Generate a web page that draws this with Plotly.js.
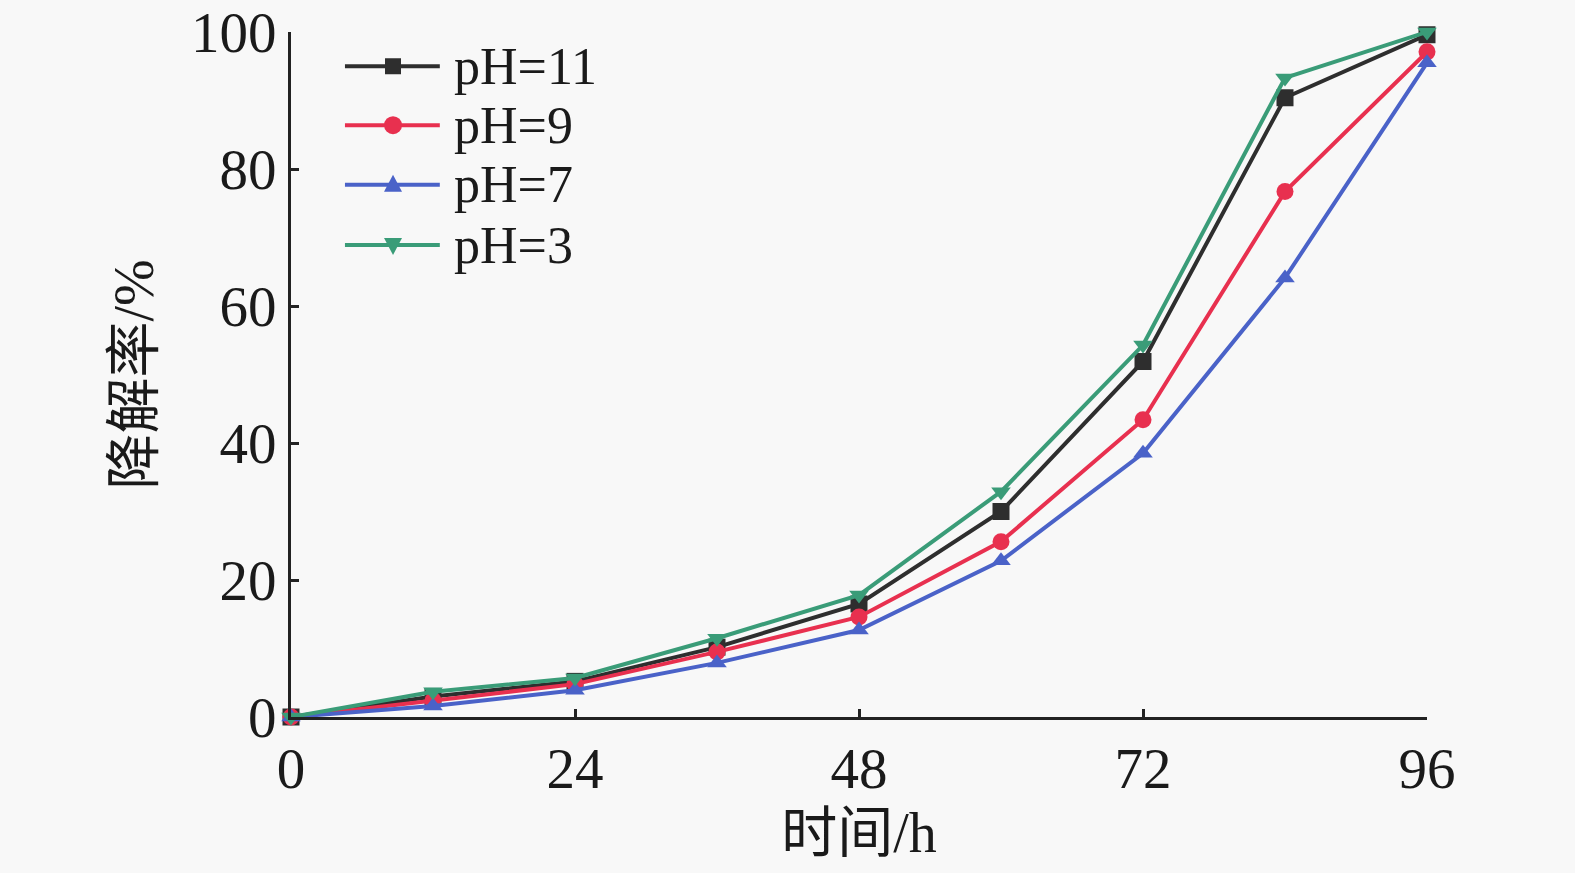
<!DOCTYPE html>
<html>
<head>
<meta charset="utf-8">
<script src="https://cdn.plot.ly/plotly-3.0.1.min.js"></script>
<style>
  html, body { margin: 0; padding: 0; background: #f8f8f8; }
  #chart { width: 1575px; height: 873px; }
</style>
</head>
<body>
<div id="chart"></div>
<script>
// degradation rate vs time at four pH levels
const hours = [0, 12, 24, 36, 48, 60, 72, 84, 96];
const ph11 = [0, 3.0, 5.2, 10.2, 16.5, 30.0, 51.9, 90.4, 99.6];
const ph9 = [0, 2.4, 4.8, 9.5, 14.6, 25.6, 43.4, 76.7, 97.1];
const ph7 = [0, 1.6, 3.9, 7.9, 12.7, 22.8, 38.5, 64.1, 95.5];
const ph3 = [0, 3.7, 5.7, 11.5, 17.8, 32.9, 54.3, 93.3, 100];
const seriesNames = ["pH=11", "pH=9", "pH=7", "pH=3"];
const xTicks = [0, 24, 48, 72, 96];
const yTicks = [0, 20, 40, 60, 80, 100];

const SERIF = "Liberation Serif, Times New Roman, Noto Sans CJK SC, serif";
const AXIS = "#222222";

const styles = [
  { color: "#2e2e2e", symbol: "square" },
  { color: "#e8304f", symbol: "circle" },
  { color: "#4a62c8", symbol: "triangle-up" },
  { color: "#3a9c78", symbol: "triangle-down" },
];
const values = [ph11, ph9, ph7, ph3];

const traces = values.map((y, i) => ({
  type: "scatter",
  mode: "lines+markers",
  name: seriesNames[i],
  x: hours,
  y,
  cliponaxis: false,
  line: { color: styles[i].color, width: 4 },
  marker: { color: styles[i].color, symbol: styles[i].symbol, size: 17 },
}));

// hand-drawn legend: long line keys like the original, built from shapes
const LEG_X0 = 0.0475, LEG_X1 = 0.131, LEG_MX = 0.0898, LEG_TX = 0.142;
const LEG_Y = [0.95, 0.864, 0.777, 0.689];
const M = 8; // half marker size, px
const shapes = [];
const annotations = [];
styles.forEach((s, i) => {
  const y = LEG_Y[i];
  shapes.push({
    type: "line", xref: "paper", yref: "paper",
    x0: LEG_X0, x1: LEG_X1, y0: y, y1: y,
    line: { color: s.color, width: 4 },
  });
  const mk = {
    xref: "paper", yref: "paper",
    xsizemode: "pixel", ysizemode: "pixel",
    xanchor: LEG_MX, yanchor: y,
    fillcolor: s.color, line: { width: 0 },
  };
  if (s.symbol === "square") Object.assign(mk, { type: "rect", x0: -M, x1: M, y0: -M, y1: M });
  else if (s.symbol === "circle") Object.assign(mk, { type: "circle", x0: -M - 1, x1: M + 1, y0: -M - 1, y1: M + 1 });
  else if (s.symbol === "triangle-up") Object.assign(mk, { type: "path", path: `M ${-M - 1} ${-M + 1} L ${M + 1} ${-M + 1} L 0 ${M + 2} Z` });
  else Object.assign(mk, { type: "path", path: `M ${-M - 1} ${M - 1} L ${M + 1} ${M - 1} L 0 ${-M - 2} Z` });
  shapes.push(mk);
  annotations.push({
    xref: "paper", yref: "paper",
    x: LEG_TX, y, xanchor: "left", yanchor: "middle",
    text: seriesNames[i], showarrow: false,
    font: { family: SERIF, size: 52, color: "#1a1a1a" },
  });
});

const layout = {
  width: 1575,
  height: 873,
  paper_bgcolor: "#f8f8f8",
  plot_bgcolor: "#f8f8f8",
  margin: { l: 291, r: 148, t: 32, b: 156 },
  font: { family: SERIF, color: "#1a1a1a", size: 56 },
  showlegend: false,
  shapes,
  annotations,
  xaxis: {
    range: [0, 96],
    automargin: false,
    tickvals: xTicks,
    ticktext: xTicks.map(String),
    ticks: "inside",
    ticklen: 8,
    tickwidth: 3,
    tickcolor: AXIS,
    showline: true,
    linewidth: 3,
    linecolor: AXIS,
    showgrid: false,
    zeroline: false,
    tickfont: { family: SERIF, size: 57 },
    title: { text: "时间/h", font: { family: SERIF, size: 56 }, standoff: 14 },
  },
  yaxis: {
    range: [0, 100],
    automargin: false,
    tickvals: yTicks,
    ticktext: yTicks.map(String),
    ticks: "inside",
    ticklen: 8,
    tickwidth: 3,
    tickcolor: AXIS,
    showline: true,
    linewidth: 3,
    linecolor: AXIS,
    showgrid: false,
    zeroline: false,
    tickfont: { family: SERIF, size: 57 },
    title: { text: "降解率/%", font: { family: SERIF, size: 56 }, standoff: 20 },
  },
};

Plotly.newPlot("chart", traces, layout, { staticPlot: true, displayModeBar: false });
</script>
</body>
</html>
